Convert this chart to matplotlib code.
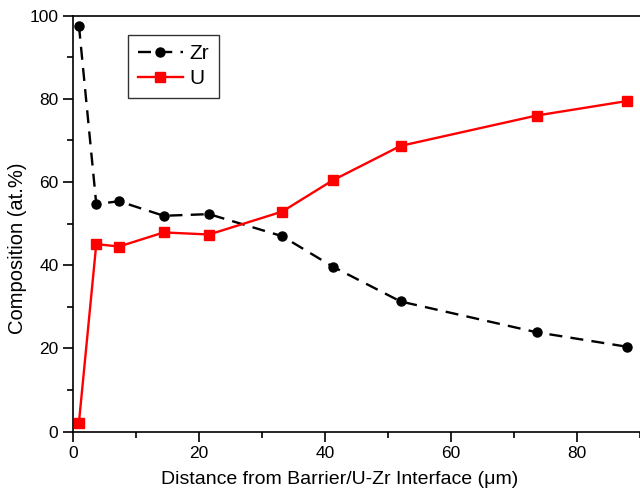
import matplotlib
matplotlib.use("Agg")
import matplotlib.pyplot as plt
from matplotlib.ticker import MultipleLocator

plt.rcParams['font.family'] = ['Liberation Sans', 'DejaVu Sans']

# distance from barrier (um)
distance = [0.95, 3.7, 7.3, 14.4, 21.6, 33.2, 41.2, 52.0, 73.6, 88.0]
zr = [97.6, 54.7, 55.4, 51.9, 52.3, 47.0, 39.7, 31.3, 23.9, 20.4]
u = [2.2, 45.1, 44.5, 47.9, 47.4, 52.9, 60.4, 68.7, 76.0, 79.5]

fig = plt.figure(figsize=(6.4, 4.92), dpi=100)
ax = fig.add_axes([0.114, 0.1226, 0.886, 0.8455])

ax.plot(distance, zr, color='black', linestyle=(0, (5.5, 3.5)), linewidth=1.7,
        marker='o', markersize=6.5, label='Zr')
ax.plot(distance, u, color='red', linestyle='-', linewidth=1.7,
        marker='s', markersize=6.5, label='U')

ax.set_xlim(0, 90)
ax.set_ylim(0, 100)
ax.xaxis.set_major_locator(MultipleLocator(20))
ax.xaxis.set_minor_locator(MultipleLocator(10))
ax.yaxis.set_major_locator(MultipleLocator(20))
ax.yaxis.set_minor_locator(MultipleLocator(10))
ax.tick_params(which='major', direction='out', length=7, width=1.2, labelsize=12.5)
ax.tick_params(which='minor', direction='out', length=4, width=1.2)
ax.spines['right'].set_visible(False)
for s in ['left', 'bottom', 'top']:
    ax.spines[s].set_linewidth(1.2)

ax.set_xlabel('Distance from Barrier/U-Zr Interface (\u03bcm)', fontsize=14)
ax.set_ylabel('Composition (at.%)', fontsize=14.5)
ax.xaxis.set_label_coords(0.471, -0.094)
ax.yaxis.set_label_coords(-0.081, 0.442)

leg = ax.legend(loc='upper left', bbox_to_anchor=(0.079, 0.979), fontsize=15,
                frameon=True, fancybox=False, edgecolor='black', handlelength=2.2,
                borderpad=0.45, labelspacing=0.3, handletextpad=0.3)
leg.get_frame().set_linewidth(1.0)

fig.savefig('out.png', dpi=100)
